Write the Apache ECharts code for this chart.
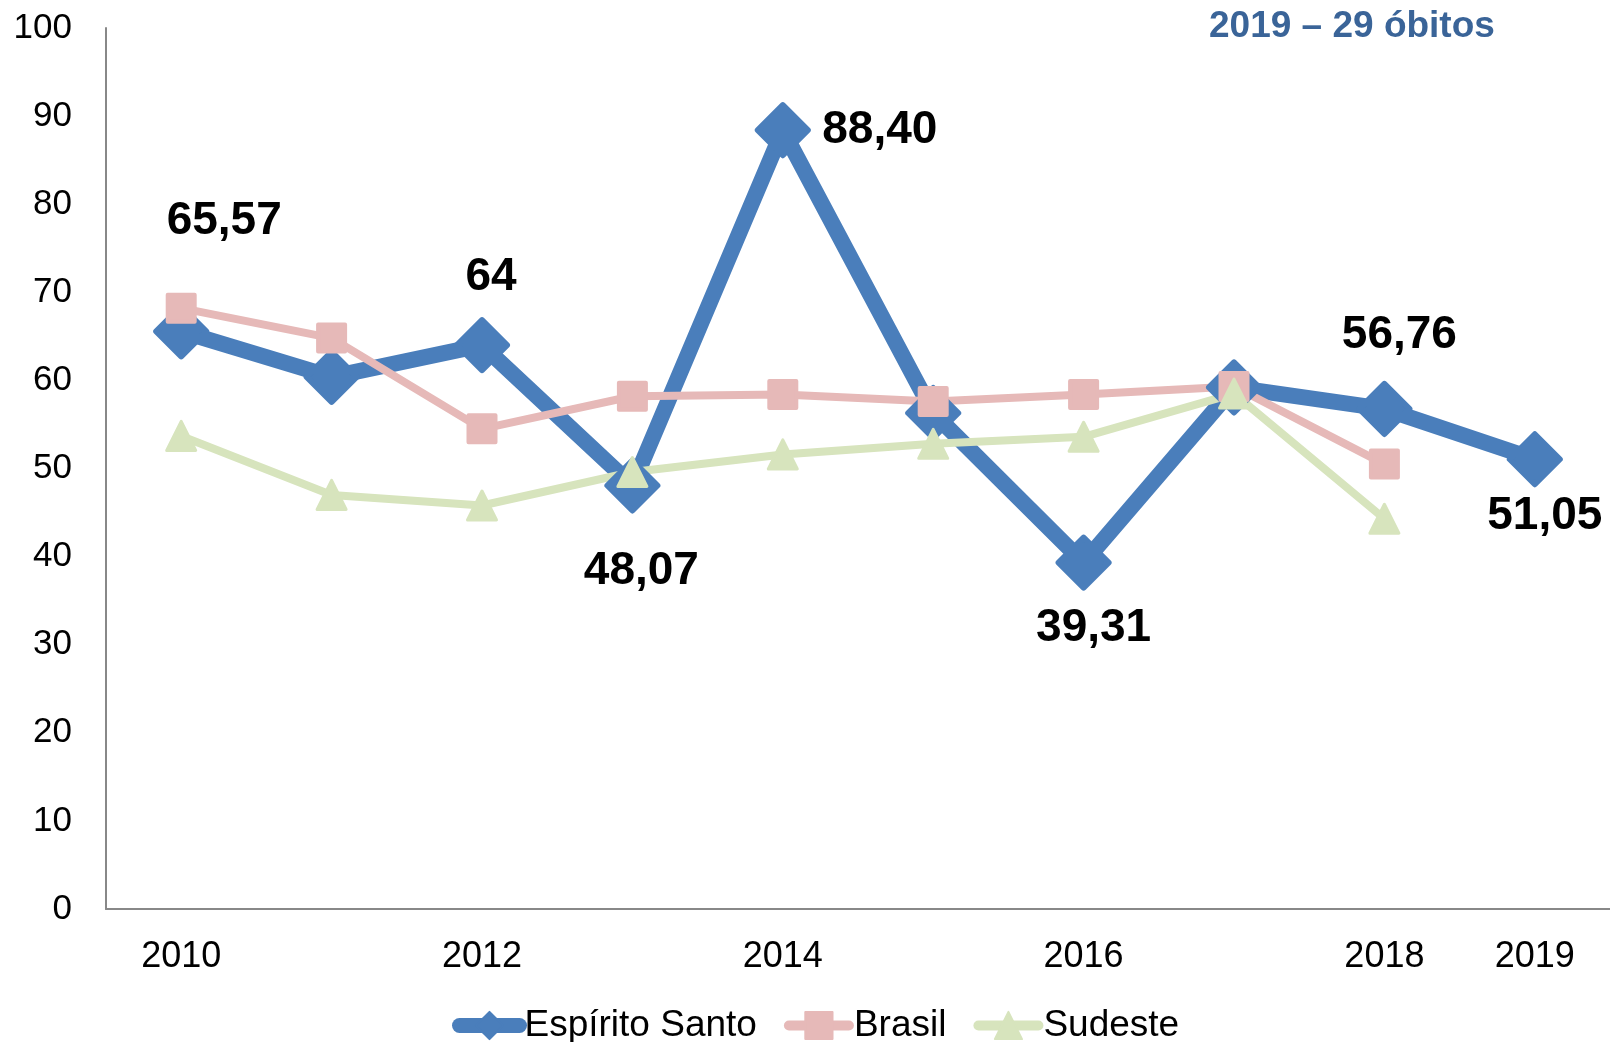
<!DOCTYPE html>
<html>
<head>
<meta charset="utf-8">
<script src="https://cdn.jsdelivr.net/npm/echarts@6/dist/echarts.min.js"></script>
<style>
  html, body { margin: 0; padding: 0; background: #fff; }
  #chart { width: 1610px; height: 1042px; }
</style>
</head>
<body>
<div id="chart"></div>
<script>
var years = ['2010', '2011', '2012', '2013', '2014', '2015', '2016', '2017', '2018', '2019']
var espiritoSanto = [65.57, 60.4, 64, 48.07, 88.40, 56.3, 39.31, 59.2, 56.76, 51.05]
var brasil = [68.2, 64.8, 54.5, 58.2, 58.4, 57.6, 58.4, 59.3, 50.5, null]
var sudeste = [53.7, 47.0, 45.8, 49.6, 51.6, 52.8, 53.6, 58.5, 44.3, null]
var shownYearIdx = [0, 2, 4, 6, 8, 9]
var titleText = '2019 – 29 óbitos'

// where each value label sits, relative to its point (px)
var labelOffsets = {
  0: [43, -110],
  2: [9, -68],
  3: [9, 86],
  4: [97, 0],
  6: [10, 66],
  8: [15, -74],
  9: [10, 57]
}

var font = "'Liberation Sans', Arial, sans-serif"

function fmt(v) {
  return Number.isInteger(v) ? String(v) : v.toFixed(2).replace('.', ',')
}

var esData = espiritoSanto.map(function(v, i) {
  if (labelOffsets[i]) {
    return { value: v, label: { show: true, offset: labelOffsets[i] } }
  }
  return v
})

var chart = echarts.init(document.getElementById('chart'))
chart.setOption({
  animation: false,
  textStyle: { fontFamily: font },
  title: {
    text: titleText,
    left: 1209,
    top: 8,
    padding: 0,
    textStyle: {
      fontFamily: font,
      fontSize: 37,
      fontWeight: 'bold',
      color: '#3a6498'
    }
  },
  grid: {
    left: 106,
    right: 0,
    top: 28,
    bottom: 133
  },
  legend: {
    left: 447,
    top: 1002,
    itemWidth: 60,
    itemHeight: 34,
    itemGap: 27,
    textStyle: {
      fontFamily: font,
      fontSize: 37,
      color: '#000'
    },
    data: [
      { name: 'Espírito Santo', lineStyle: { width: 15, cap: 'round' } },
      { name: 'Brasil', lineStyle: { width: 10, cap: 'round' } },
      { name: 'Sudeste', lineStyle: { width: 10, cap: 'round' } }
    ]
  },
  xAxis: {
    type: 'category',
    data: years,
    boundaryGap: true,
    axisTick: { show: false },
    axisLine: { lineStyle: { color: '#888', width: 2 } },
    axisLabel: {
      margin: 30,
      fontSize: 36,
      color: '#000',
      fontFamily: font,
      interval: function(idx) {
        return shownYearIdx.indexOf(idx) !== -1
      }
    }
  },
  yAxis: {
    type: 'value',
    min: 0,
    max: 100,
    interval: 10,
    splitLine: { show: false },
    axisTick: { show: false },
    axisLine: { show: true, lineStyle: { color: '#888', width: 2 } },
    axisLabel: {
      margin: 34,
      fontSize: 35,
      color: '#000',
      fontFamily: font
    }
  },
  series: [
    {
      name: 'Espírito Santo',
      type: 'line',
      data: esData,
      symbol: 'diamond',
      symbolSize: 50,
      lineStyle: { color: '#4a7ebb', width: 16, join: 'round' },
      itemStyle: {
        color: '#4a7ebb',
        borderColor: '#4a7ebb',
        borderWidth: 6,
        borderJoin: 'round'
      },
      label: {
        show: false,
        position: 'inside',
        align: 'center',
        verticalAlign: 'middle',
        fontFamily: font,
        fontSize: 46,
        fontWeight: 'bold',
        color: '#000',
        formatter: function(p) { return fmt(p.value) }
      }
    },
    {
      name: 'Brasil',
      type: 'line',
      data: brasil,
      symbol: 'rect',
      symbolSize: 27,
      lineStyle: { color: '#e6b9b8', width: 8 },
      itemStyle: {
        color: '#e6b9b8',
        borderColor: '#e6b9b8',
        borderWidth: 4,
        borderJoin: 'round'
      }
    },
    {
      name: 'Sudeste',
      type: 'line',
      data: sudeste,
      symbol: 'triangle',
      symbolSize: 29,
      lineStyle: { color: '#d7e4bd', width: 8 },
      itemStyle: {
        color: '#d7e4bd',
        borderColor: '#d7e4bd',
        borderWidth: 3,
        borderJoin: 'round'
      }
    }
  ]
})
</script>
</body>
</html>
